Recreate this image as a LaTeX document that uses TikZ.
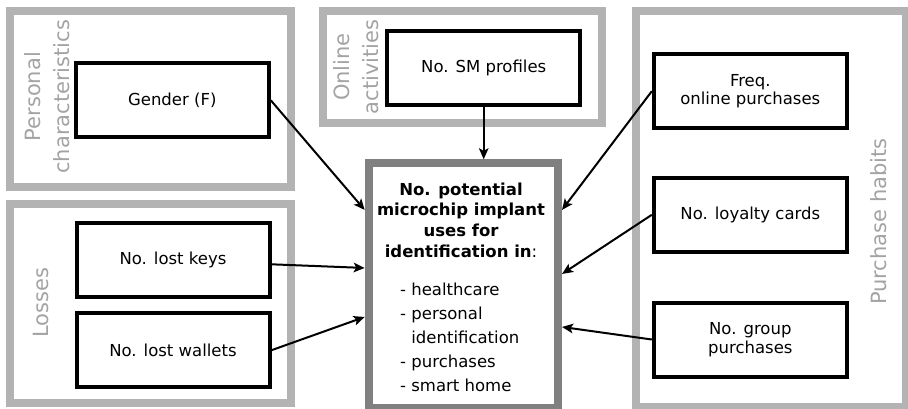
\documentclass[tikz,border=0pt]{standalone}
\usepackage{fontspec}
\setmainfont{DejaVu Sans}
\usetikzlibrary{arrows.meta,calc}

\definecolor{groupgray}{HTML}{B3B3B3}
\definecolor{labelgray}{HTML}{A3A3A3}
\definecolor{coregray}{HTML}{808080}

\begin{document}
\begin{tikzpicture}[x=1pt,y=-1pt,
  group/.style={draw=groupgray, line width=8pt},
  grouplabel/.style={text=labelgray, font=\fontsize{21}{29}\selectfont,
    rotate=90, align=center, inner sep=0pt},
  factor/.style={draw=black, line width=4pt, minimum width=193pt,
    minimum height=74pt, align=center, inner sep=0pt,
    font=\fontsize{16.5}{18.5}\selectfont},
  link/.style={-{Stealth[length=11pt,width=9.5pt,inset=2.5pt]}, line width=2pt}
]
\clip (0,0) rectangle (908,408);

% category frames
\draw[group] (10,11) rectangle (291,187);
\draw[group] (322.5,11) rectangle (602,122.5);
\draw[group] (635.5,11) rectangle (906,407.3);
\draw[group] (10,204) rectangle (291,403);

% category labels
\node[grouplabel] (lblpers) at (47.5,96.7) {Personal\\characteristics};
\node[grouplabel] (lblonl) at (355.8,67) {Online\\activities};
\node[grouplabel] (lblpur) at (879,221.7) {Purchase habits};
\node[grouplabel] (lbllos) at (40.8,302.5) {Losses};

% predictors
\node[factor] (gender) at (172.3,100.3) {Gender (F)};
\node[factor] (sm) at (483.7,67.5) {No. SM profiles};
\node[factor] (freq) at (750.3,91.2) {Freq.\\online purchases};
\node[factor] (loyal) at (750.3,214.8) {No. loyalty cards};
\node[factor] (groupbuy) at (750.3,339.5) {No. group\\purchases};
\node[factor] (keys) at (173,260.3) {No. lost keys};
\node[factor] (wallets) at (173,350.2) {No. lost wallets};

% outcome
\node[draw=coregray, line width=8pt, minimum width=189.3pt,
      minimum height=244.7pt, inner sep=0pt] (core) at (463.35,285.65) {};
\node[anchor=north, align=center, inner sep=0pt,
      font=\fontsize{16.5}{20.7}\selectfont] (title) at (461,182.5)
  {\textbf{No. potential}\\\textbf{microchip implant}\\\textbf{uses for}\\\textbf{identification in}:};
\node[anchor=north west, inner sep=0pt,
      font=\fontsize{16.5}{24}\selectfont] (uses) at (400,278.2)
  {\begin{tabular}{@{}l@{\ }l@{}}
   - & healthcare\\
   - & personal\\
     & identification\\
   - & purchases\\
   - & smart home
   \end{tabular}};

% links
\draw[link] (gender.east) -- ($(core.west)+(0,-75.7)$);
\draw[link] (sm.south) -- (sm.south |- core.north);
\draw[link] (freq.west) -- ($(core.east)+(0,-75.7)$);
\draw[link] (loyal.west) -- ($(core.east)+(0,-11.7)$);
\draw[link] (groupbuy.west) -- ($(core.east)+(0,41.3)$);
\draw[link] ($(keys.east)+(0,4)$) -- ($(core.west)+(0,-17.7)$);
\draw[link] (wallets.east) -- ($(core.west)+(0,31.3)$);
\end{tikzpicture}
\end{document}
